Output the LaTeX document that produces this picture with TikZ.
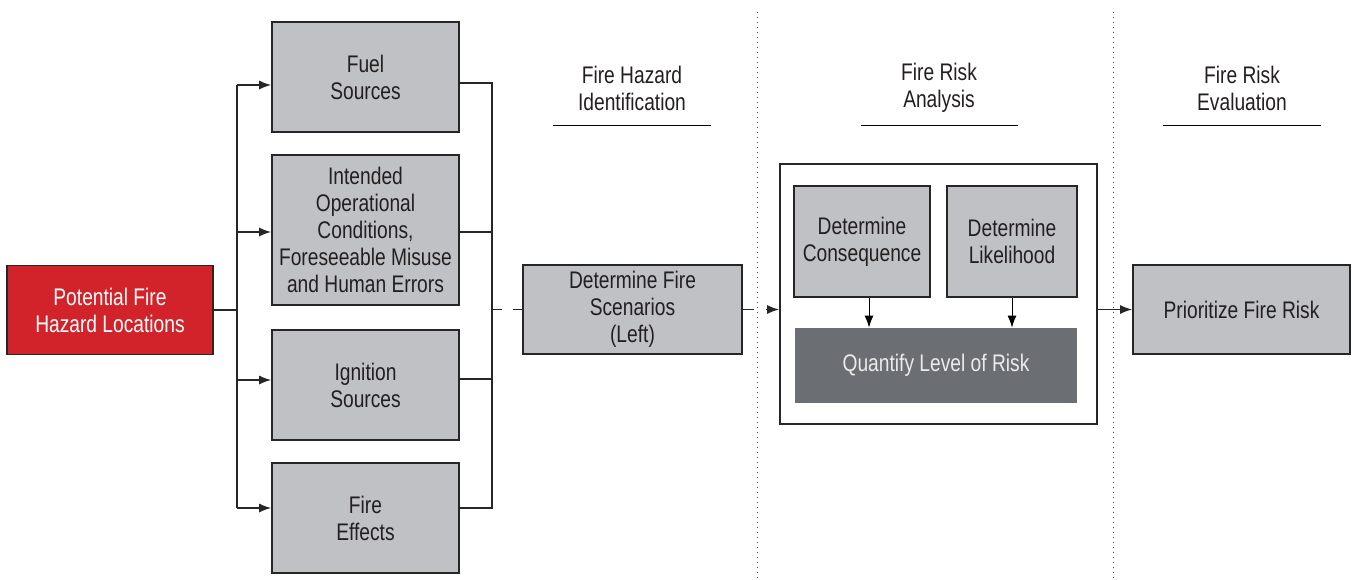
\documentclass[tikz,border=0pt]{standalone}
\usepackage{fontspec}
\setmainfont[FakeStretch=0.8]{Liberation Sans}
\usetikzlibrary{arrows.meta}
\usetikzlibrary{positioning}
\usetikzlibrary{calc}
\definecolor{boxgray}{HTML}{C0C1C4}
\definecolor{quantgray}{HTML}{6B6E73}
\definecolor{firered}{HTML}{D2232A}
\definecolor{edge}{HTML}{262626}
\definecolor{txt}{HTML}{231F20}

\begin{document}
\begin{tikzpicture}[x=0.5pt,y=-0.5pt,>={Latex[length=6pt,width=4.5pt]},
	every node/.style={font=\fontsize{12}{13.5}\selectfont,text=txt,align=center,inner sep=0pt},
	box/.style={draw=edge,line width=0.8pt,fill=boxgray,minimum width=93.5pt,minimum height=55pt},
	link/.style={line width=0.75pt,draw=edge}]
			\useasboundingbox (0,0) rectangle (1354,579);
			% column dividers
			\draw[dotted,line width=0.5pt,black!70] (757,12) -- (757,579);
			\draw[dotted,line width=0.5pt,black!70] (1113,12) -- (1113,579);
			% headers
			\node(hid)at(632,88){Fire Hazard\\Identification};
			\node(han)at(939,88){Fire Risk\\Analysis};
			\node(hev)at(1242,88){Fire Risk\\Evaluation};
			\draw[line width=0.5pt] (553,125) -- (711,125);
			\draw[line width=0.5pt] (861,125) -- (1018,125);
			\draw[line width=0.5pt] (1163,125) -- (1321,125);
			% boxes
			\node[box,fill=firered,text=white,minimum width=103pt,minimum height=44.5pt](loc)at(110,310){Potential Fire\\Hazard Locations};
			\node[box](fuel)at(365.5,77){Fuel\\Sources};
			\node[box,minimum height=75pt](oper)at(365.5,230){Intended\\Operational\\Conditions,\\Foreseeable Misuse\\and Human Errors};
			\node[box](ign)at(365.5,385){Ignition\\Sources};
			\node[box](eff)at(365.5,518){Fire\\Effects};
			\node[box,minimum width=109.5pt,minimum height=44.5pt](scen)at(632.5,309.5){Determine Fire\\Scenarios\\(Left)};
			\node[draw=edge,line width=0.8pt,fill=white,minimum width=158.5pt,minimum height=130pt](anal)at(938.5,294){};
			\node[box,minimum width=68pt,minimum height=55.5pt](cons)at(862,241.5){Determine\\Consequence};
			\node[box,minimum width=65pt,minimum height=55.5pt](like)at(1012,241.5){Determine\\Likelihood};
			\node[fill=quantgray,text=white!92!black,minimum width=141pt,minimum height=37.5pt](quant)at(936,365.5){Quantify Level of Risk};
			\node[box,minimum width=108.5pt,minimum height=44.5pt](prio)at(1241.5,309.5){Prioritize Fire Risk};
			% split to the hazard sources
			\coordinate(sp)at(237,310);
			\coordinate(sp1)at(237,85);
			\coordinate(sp2)at(237,232);
			\coordinate(sp3)at(237,380);
			\coordinate(sp4)at(237,508);
			\draw[link](loc.east)--(sp);
			\draw[link](sp1)--(sp4);
			\draw[link,->](sp1)--(fuel.west|-sp1);
			\draw[link,->](sp2)--(oper.west|-sp2);
			\draw[link,->](sp3)--(ign.west|-sp3);
			\draw[link,->](sp4)--(eff.west|-sp4);
			% join from the hazard sources
			\coordinate(jn1)at(492,83);
			\coordinate(jn2)at(492,232);
			\coordinate(jn3)at(492,379);
			\coordinate(jn4)at(492,508);
			\draw[link](fuel.east|-jn1)--(jn1)--(jn4)--(eff.east|-jn4);
			\draw[link](oper.east|-jn2)--(jn2);
			\draw[link](ign.east|-jn3)--(jn3);
			\draw[link,line width=0.9pt,dash pattern=on 5pt off 5.5pt on 6pt](jn1|-scen.west)--(scen.west);
			\draw[link,line width=0.9pt,->,dash pattern=on 5.5pt off 6pt on 20pt](scen.east)--(anal.west|-scen.east);
			\draw[line width=0.5pt,->]([xshift=3.5pt]cons.south)--([xshift=3.5pt]cons.south|-quant.north);
			\draw[line width=0.5pt,->](like.south)--(like.south|-quant.north);
			\draw[link,->](anal.east|-prio.west)--(prio.west);
		\end{tikzpicture}
\end{document}
